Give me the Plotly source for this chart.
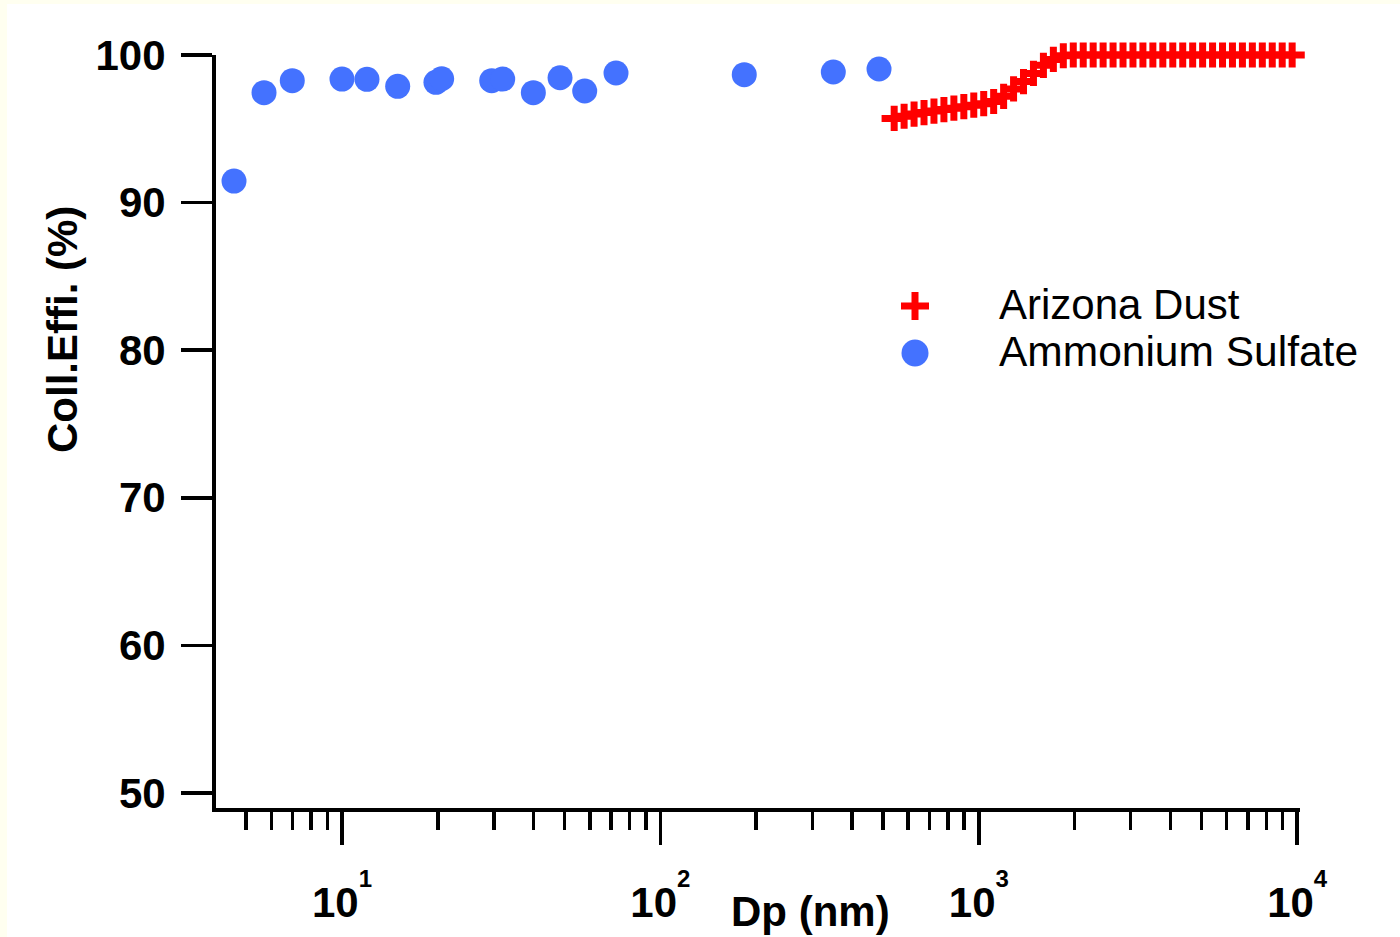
import plotly.graph_objects as go

# ---------------- data ----------------
as_dp = [4.58, 5.69, 6.98, 10.0, 11.98, 14.96, 19.73, 20.56, 29.53, 31.97,
         39.9, 48.4, 57.85, 72.55, 183.4, 349.2, 486.0]
as_eff = [91.46, 97.45, 98.26, 98.37, 98.35, 97.88, 98.15, 98.39, 98.26, 98.37,
          97.45, 98.46, 97.56, 98.78, 98.67, 98.85, 99.05]

ad_dp = [542.3, 582.7, 626.2, 672.9, 723.1, 777.1, 835.1, 897.4, 964.3, 1036.2,
         1113.5, 1196.6, 1285.9, 1381.8, 1484.9, 1595.7, 1714.8, 1842.7, 1980.2, 2127.9,
         2286.7, 2457.3, 2640.6, 2837.6, 3049.3, 3276.8, 3521.3, 3784.0, 4066.3, 4369.7,
         4695.7, 5046.0, 5422.5, 5827.0, 6261.7, 6728.9, 7230.9, 7770.4, 8350.1, 8973.0,
         9642.5, 10361.9]
ad_eff = [95.70, 95.85, 96.00, 96.10, 96.20, 96.30, 96.40, 96.50, 96.60, 96.70,
          96.85, 97.20, 97.70, 98.20, 98.75, 99.30, 99.70, 99.95, 100.0, 100.0,
          100.0, 100.0, 100.0, 100.0, 100.0, 100.0, 100.0, 100.0, 100.0, 100.0,
          100.0, 100.0, 100.0, 100.0, 100.0, 100.0, 100.0, 100.0, 100.0, 100.0,
          100.0, 100.0]

series_names = ["Arizona Dust", "Ammonium Sulfate"]

x_tick_vals = [10, 100, 1000, 10000]
x_tick_exp = ["1", "2", "3", "4"]
y_tick_vals = [50, 60, 70, 80, 90, 100]
x_minor_vals = [m * d for d in (1, 10, 100, 1000) for m in range(2, 10)]

x_title = "Dp (nm)"
y_title = "Coll.Effi. (%)"

# ---------------- styling ----------------
FONT = "Liberation Sans, Arial, Helvetica, sans-serif"
RED = "#FF0000"
BLUE = "#4472FF"
PAPER = "#FFFFF0"

W, H = 1400, 937
L, R, T, B = 216, 100, 55, 129
PW, PH = W - L - R, H - T - B


def px(x):
    return (x - L) / PW


def py(y):
    return (H - B - y) / PH


fig = go.Figure()

fig.add_trace(go.Scatter(
    x=ad_dp, y=ad_eff, mode="markers", name=series_names[0],
    marker=dict(symbol="cross-thin", size=18, color=RED,
                line=dict(color=RED, width=7)),
    cliponaxis=False, showlegend=False,
))
fig.add_trace(go.Scatter(
    x=as_dp, y=as_eff, mode="markers", name=series_names[1],
    marker=dict(symbol="circle", size=25, color=BLUE, line=dict(width=0)),
    cliponaxis=False, showlegend=False,
))

# custom legend (pixel-coordinate overlay axes)
fig.add_trace(go.Scatter(
    x=[915], y=[306], xaxis="x2", yaxis="y2", mode="markers",
    marker=dict(symbol="cross-thin", size=20, color=RED,
                line=dict(color=RED, width=7)),
    showlegend=False, hoverinfo="skip", cliponaxis=False,
))
fig.add_trace(go.Scatter(
    x=[915], y=[353], xaxis="x2", yaxis="y2", mode="markers",
    marker=dict(symbol="circle", size=27, color=BLUE, line=dict(width=0)),
    showlegend=False, hoverinfo="skip", cliponaxis=False,
))

annotations = [
    dict(text=series_names[0], x=997, y=304, xref="x2", yref="y2",
         xanchor="left", yanchor="middle", showarrow=False,
         font=dict(family=FONT, size=42, color="black")),
    dict(text=series_names[1], x=997, y=351, xref="x2", yref="y2",
         xanchor="left", yanchor="middle", showarrow=False,
         font=dict(family=FONT, size=42.5, color="black")),
    dict(text=x_title, x=px(810), y=py(912), xref="paper", yref="paper",
         xanchor="center", yanchor="middle", showarrow=False,
         font=dict(family=FONT, size=42, color="black", weight="bold")),
    dict(text=y_title, x=px(62), y=py(330), xref="paper", yref="paper",
         xanchor="center", yanchor="middle", showarrow=False, textangle=-90,
         font=dict(family=FONT, size=42, color="black", weight="bold")),
]

fig.update_layout(
    width=W, height=H,
    margin=dict(l=L, r=R, t=T, b=B, pad=0, autoexpand=False),
    paper_bgcolor=PAPER, plot_bgcolor="white",
    font=dict(family=FONT, color="black"),
    showlegend=False,
    xaxis=dict(
        type="log", range=[0.6043, 4.0088],
        showline=True, linecolor="black", linewidth=4,
        showgrid=False, zeroline=False,
        ticks="outside", ticklen=33, tickwidth=3.5, tickcolor="black",
        tickmode="array", tickvals=x_tick_vals,
        ticktext=['10<sup><sup><span style="font-size:24px">%s</span></sup></sup>' % e
                  for e in x_tick_exp],
        tickfont=dict(family=FONT, size=42, color="black", weight="bold"),
        ticklabelstandoff=22,
        minor=dict(tickmode="array", tickvals=x_minor_vals, ticks="outside",
                   ticklen=18, tickwidth=3.5, tickcolor="black", showgrid=False),
    ),
    yaxis=dict(
        range=[48.98, 100],
        showline=True, linecolor="black", linewidth=4,
        showgrid=False, zeroline=False,
        ticks="outside", ticklen=31, tickwidth=3.5, tickcolor="black",
        tickmode="array", tickvals=y_tick_vals,
        tickfont=dict(family=FONT, size=42, color="black", weight="bold"),
        ticklabelstandoff=7,
    ),
    xaxis2=dict(overlaying="x", range=[L, W - R], visible=False, fixedrange=True),
    yaxis2=dict(overlaying="y", range=[H - B, T], visible=False, fixedrange=True),
    shapes=[dict(type="rect", xref="paper", yref="paper",
                 x0=px(7), x1=px(W + 5), y0=py(H + 5), y1=py(4),
                 fillcolor="white", line=dict(width=0), layer="below")],
    annotations=annotations,
)

fig.write_html(
    "out.html",
    config={"displayModeBar": False, "staticPlot": True},
    post_script=("document.body.style.margin='0';"
                 "document.body.style.background='%s';" % PAPER),
)
